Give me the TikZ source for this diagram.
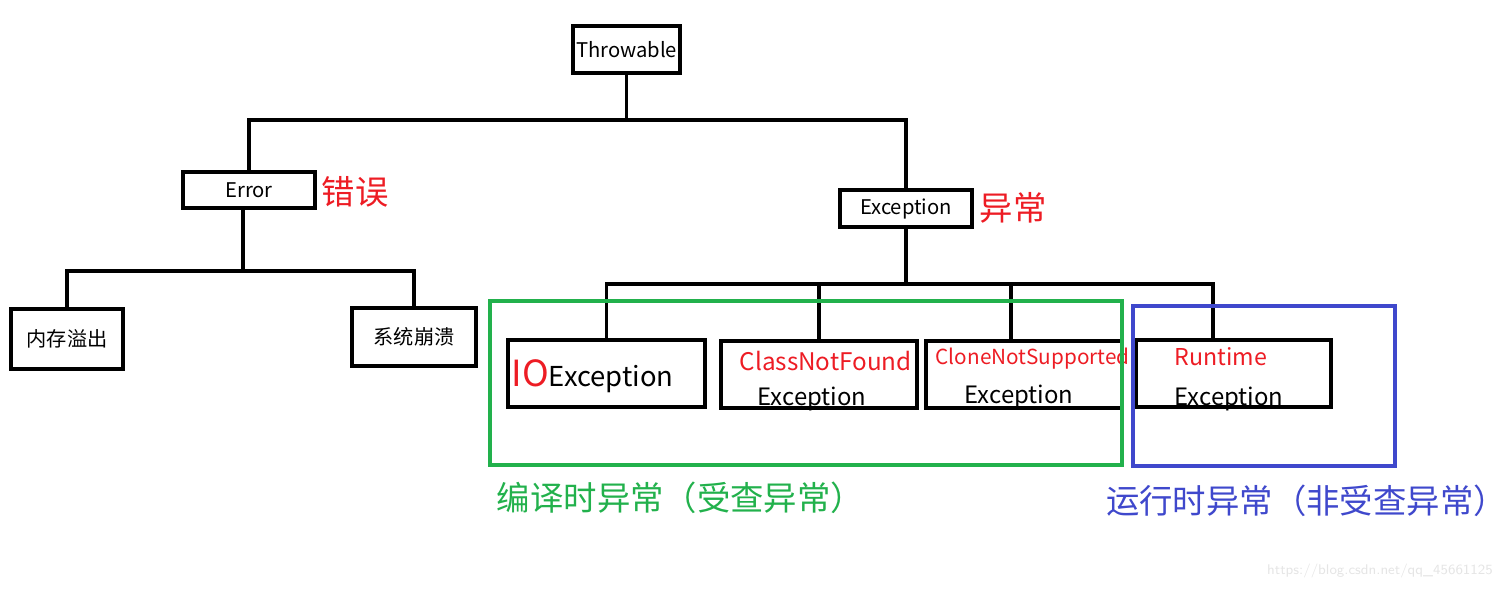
\documentclass[tikz,border=0pt]{standalone}
\usepackage{fontspec}
\setmainfont{Noto Sans CJK SC}
\definecolor{paintred}{RGB}{237,28,36}
\definecolor{paintgreen}{RGB}{34,177,76}
\definecolor{paintblue}{RGB}{63,72,204}

\begin{document}
\begin{tikzpicture}[x=0.02cm, y=-0.02cm, line width=1.9pt,
  box/.style={draw, line width=1.9pt, inner sep=0pt, font=\fontsize{11.5}{14}\selectfont},
  cjkbox/.style={box, font=\fontsize{11.5}{14}\selectfont},
  redword/.style={anchor=base west, inner sep=0pt, text=paintred},
  blackword/.style={anchor=base west, inner sep=0pt, font=\fontsize{13.6}{16}\selectfont},
  remark/.style={inner sep=0pt, text=paintred, font=\fontsize{19}{22}\selectfont},
  groupnote/.style={inner sep=0pt, font=\fontsize{19}{23}\selectfont}]
                    \useasboundingbox (0,0) rectangle (1511,589);
                    % top of the tree
                    \node[box, minimum width=2.14cm, minimum height=0.94cm] (throw) at (626.5,49.5) {Throwable};
                    \node[box, minimum width=2.64cm, minimum height=0.72cm] (error) at (249,190) {Error};
                    \node[box, minimum width=2.64cm, minimum height=0.74cm] (exc) at (906,208.5) {Exception};
                    \node[remark] (errnote) at (355,192) {错误};
                    \node[remark] (excnote) at (1013,208) {异常};
                    % children of Error
                    \node[cjkbox, minimum width=2.24cm, minimum height=1.2cm] (mem) at (67,339) {内存溢出};
                    \node[cjkbox, minimum width=2.48cm, minimum height=1.16cm] (crash) at (414,337) {系统崩溃};
                    % children of Exception
                    \node[box, minimum width=3.94cm, minimum height=1.34cm] (io) at (606.5,373.5) {};
                    \node[box, minimum width=3.92cm, minimum height=1.34cm] (cnf) at (819,374.5) {};
                    \node[box, minimum width=3.92cm, minimum height=1.34cm] (cns) at (1024,374.5) {};
                    \node[box, minimum width=3.9cm, minimum height=1.34cm] (rt) at (1233.5,373.5) {};
                    \node[redword, font=\fontsize{20.5}{24}\selectfont] (iotext) at (510,386) {IO\textcolor{black}{\fontsize{15.6}{18}\selectfont Exception}};
                    \node[redword, font=\fontsize{13.8}{16}\selectfont] (cnftext) at (738,370) {ClassNotFound};
                    \node[blackword] (cnfexc) at (756,405) {Exception};
                    \node[redword, font=\fontsize{11.8}{14}\selectfont] (cnstext) at (934,364) {CloneNotSupported};
                    \node[blackword] (cnsexc) at (963,403) {Exception};
                    \node[redword, font=\fontsize{13.2}{16}\selectfont] (rttext) at (1173,365) {Runtime};
                    \node[blackword] (rtexc) at (1173,405) {Exception};
                    % connectors
                    \coordinate (tbus) at (626.5,120);
                    \coordinate (ebus) at (243,271);
                    \coordinate (xbus) at (906,284);
                    \draw (throw.south) -- (tbus);
                    \draw (tbus) -| (error.north);
                    \draw (tbus) -| (exc.north);
                    \draw (error.south -| ebus) -- (ebus);
                    \draw (ebus) -| (mem.north);
                    \draw (ebus) -| (crash.north);
                    \draw (exc.south) -- (xbus);
                    \draw (xbus) -| (io.north);
                    \draw (xbus) -| (cnf.north);
                    \draw (xbus) -| (cns.north -| 1011,0);
                    \draw (xbus) -| (rt.north -| 1213,0);
                    % the two groups
                    \draw[paintgreen, line width=1.8pt] (490,301) rectangle (1122,465);
                    \draw[paintblue, line width=1.8pt] (1133,306) rectangle (1395,466);
                    \node[groupnote, text=paintgreen] (checked) at (680.5,498) {编译时异常（受查异常）};
                    \node[groupnote, text=paintblue] (unchecked) at (1306.5,501) {运行时异常（非受查异常）};
                    \node[inner sep=0pt, text=black!10, font=\fontsize{8}{10}\selectfont\sffamily] (mark) at (1380,571) {https://blog.csdn.net/qq\_45661125};
                \end{tikzpicture}
\end{document}
